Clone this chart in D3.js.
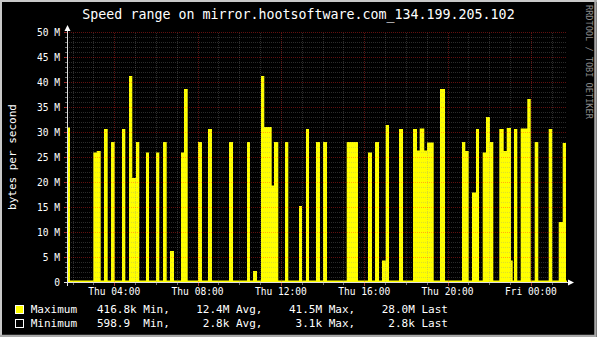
<!DOCTYPE html>
<html lang="en">
<head>
<meta charset="UTF-8">
<title>Speed range</title>
<style>
  body { margin: 0; background: #000; }
  svg { display: block; }
  text { font-family: "DejaVu Sans Mono", monospace; fill: #fff; }
</style>
</head>
<body>
<svg id="chart" width="597" height="337"></svg>
<script src="https://d3js.org/d3.v7.min.js"></script>
<script>
const chartTitle = "Speed range on mirror.hootsoftware.com_134.199.205.102";
const yTitle = "bytes per second";
const watermark = "RRDTOOL / TOBI OETIKER";

// graph covers one day, starting Thursday 01:44
const graphStart = new Date(2014, 0, 16, 1, 44);
const spanHours = 24;

// Maximum series: resting level and bursts, [from h, to h, MB/s] (h = hours after graphStart)
const restLevel = 0.42;
const bursts = [
  [0.000, 0.144, 31.0],
  [1.262, 1.426, 26.0], [1.426, 1.618, 26.3],
  [1.776, 1.954, 30.7],
  [2.112, 2.290, 28.1],
  [2.640, 2.798, 30.7],
  [2.976, 3.134, 41.3], [3.134, 3.312, 20.9], [3.312, 3.470, 28.1],
  [3.792, 3.936, 26.0],
  [4.272, 4.430, 26.0],
  [4.608, 4.786, 28.1],
  [4.944, 5.136, 6.3],
  [5.472, 5.616, 26.0], [5.616, 5.794, 38.7],
  [6.288, 6.480, 28.1],
  [6.768, 6.960, 30.7],
  [7.776, 7.968, 28.1],
  [8.640, 8.784, 28.1],
  [8.928, 9.120, 2.3],
  [9.312, 9.470, 41.3], [9.470, 9.826, 31.1], [9.826, 9.936, 19.4], [9.936, 10.142, 28.1],
  [10.464, 10.622, 28.1],
  [11.136, 11.280, 15.3],
  [11.472, 11.616, 30.7],
  [11.952, 12.144, 28.1],
  [12.288, 12.480, 28.1],
  [13.426, 13.968, 28.1],
  [14.448, 14.640, 26.0],
  [14.784, 14.976, 28.1],
  [15.120, 15.298, 4.4], [15.298, 15.456, 31.5],
  [15.936, 16.128, 30.7],
  [16.608, 16.800, 30.7], [16.800, 16.930, 26.4], [16.930, 17.150, 30.8], [17.150, 17.280, 26.4], [17.280, 17.602, 28.0],
  [17.904, 18.144, 38.7],
  [18.960, 19.118, 28.1], [19.118, 19.282, 26.3],
  [19.440, 19.632, 18.0], [19.632, 19.776, 30.7],
  [19.954, 20.112, 26.0], [20.112, 20.304, 33.1], [20.304, 20.462, 28.1],
  [20.750, 20.962, 30.7], [20.962, 21.106, 26.3], [21.106, 21.312, 30.9], [21.312, 21.394, 4.4],
  [21.456, 21.614, 30.7],
  [21.778, 22.094, 30.8], [22.094, 22.258, 36.7],
  [22.450, 22.622, 28.1],
  [23.122, 23.294, 30.7],
  [23.602, 23.794, 12.1], [23.794, 23.952, 27.9]
];

const yTicks = d3.range(0, 51, 5);          // labelled, in M
const legendNames = ["Maximum", "Minimum"];
const legendColors = ["#ffff00", "#000000"];
const legendStats = [
  "416.8k Min,    12.4M Avg,    41.5M Max,    28.0M Last",
  "598.9  Min,     2.8k Avg,     3.1k Max,     2.8k Last"
];

const W = 597, H = 337;
const plotL = 67, plotR = 567, plotT = 32.5, plotB = 282.5;
const svg = d3.select("#chart");

svg.append("rect").attr("width", W).attr("height", H).attr("fill", "#000");

const hour = h => new Date(graphStart.getTime() + h * 3600e3);
const x = d3.scaleTime().domain([graphStart, hour(spanHours)]).range([plotL, plotR]);
const y = d3.scaleLinear().domain([0, 50]).range([plotB, plotT]);

// step data
const pts = [[0, restLevel]];
bursts.forEach(b => { pts.push([b[0], b[2]]); pts.push([b[1], restLevel]); });
pts.push([spanHours, restLevel]);

const area = d3.area()
  .curve(d3.curveStepAfter)
  .x(d => x(hour(d[0])))
  .y0(y(0))
  .y1(d => y(d[1]));

svg.append("path").datum(pts).attr("d", area).attr("fill", "#ffff00");

// grid on top
const minorCol = "#8f8f8f", minorOp = 0.3, majorCol = "#ff2a2a", majorOp = 0.38;
const g = svg.append("g").attr("shape-rendering", "crispEdges").attr("stroke-dasharray", "1,1");
const hoursTicks = x.ticks(d3.timeHour.every(1));
hoursTicks.forEach(t => {
  const px = Math.round(x(t)) + 0.5;
  if (px <= plotL + 1 || px > plotR) return;
  const major = t.getHours() % 4 === 0;
  g.append("line").attr("x1", px).attr("x2", px).attr("y1", plotT).attr("y2", plotB)
    .attr("stroke", major ? majorCol : minorCol).attr("stroke-opacity", major ? majorOp : minorOp);
});
d3.range(1, 51).forEach(v => {
  const py = Math.round(y(v) - 0.5) + 0.5;
  const major = v % 5 === 0;
  g.append("line").attr("x1", plotL).attr("x2", plotR).attr("y1", py).attr("y2", py)
    .attr("stroke", major ? majorCol : minorCol).attr("stroke-opacity", major ? majorOp : minorOp);
});

// ticks
const tk = svg.append("g").attr("shape-rendering", "crispEdges");
hoursTicks.forEach(t => {
  const px = Math.round(x(t)) + 0.5;
  if (px <= plotL + 1 || px > plotR) return;
  const major = t.getHours() % 4 === 0;
  tk.append("line").attr("x1", px).attr("x2", px).attr("y1", plotB).attr("y2", plotB + (major ? 3 : 2))
    .attr("stroke", major ? "#a03030" : "#707070");
});
d3.range(0, 51).forEach(v => {
  const py = Math.round(y(v) - 0.5) + 0.5;
  const major = v % 5 === 0;
  tk.append("line").attr("x1", plotL - (major ? 3 : 2)).attr("x2", plotL).attr("y1", py).attr("y2", py)
    .attr("stroke", major ? "#a03030" : "#707070");
});

// axes
svg.append("line").attr("x1", plotL - 3).attr("x2", plotR + 2).attr("y1", plotB).attr("y2", plotB)
  .attr("stroke", "#e0e0e0").attr("shape-rendering", "crispEdges");
svg.append("path").attr("d", `M${plotR + 1},${plotB - 3}L${plotR + 7},${plotB}L${plotR + 1},${plotB + 3}Z`)
  .attr("fill", "#fff");
svg.append("line").attr("x1", plotL + 0.5).attr("x2", plotL + 0.5).attr("y1", plotB + 3).attr("y2", plotT - 2)
  .attr("stroke", "#e0e0e0").attr("shape-rendering", "crispEdges");
svg.append("path").attr("d", `M${plotL - 2.5},${plotT - 1.5}L${plotL + 0.5},${plotT - 7.5}L${plotL + 3.5},${plotT - 1.5}Z`)
  .attr("fill", "#fff");

// tick labels
const fmt = d3.timeFormat("%a %H:%M");
hoursTicks.filter(t => t.getHours() % 4 === 0 && x(t) > plotL).forEach(t => {
  svg.append("text").attr("x", x(t)).attr("y", 295).attr("text-anchor", "middle")
    .attr("font-size", "9.6px").text(fmt(t));
});
yTicks.forEach(v => {
  svg.append("text").attr("x", 60).attr("y", y(v) + 3.5).attr("text-anchor", "end")
    .attr("font-size", "9.6px").text(v === 0 ? "0" : v + " M");
});

// titles
svg.append("text").attr("x", 298.5).attr("y", 18.5).attr("text-anchor", "middle")
  .attr("font-size", "13.3px").text(chartTitle);
svg.append("text").attr("transform", "translate(15.5,157) rotate(-90)").attr("text-anchor", "middle")
  .attr("font-size", "11px").text(yTitle);
svg.append("text").attr("transform", "translate(585.5,5) rotate(90)")
  .attr("font-size", "8.6px").style("fill", "#8a8a8a").text(watermark);

// legend
legendNames.forEach((name, i) => {
  const ly = 313 + i * 14;
  svg.append("rect").attr("x", 15.5).attr("y", ly - 7.5).attr("width", 8).attr("height", 8)
    .attr("fill", legendColors[i]).attr("stroke", "#fff").attr("shape-rendering", "crispEdges");
  svg.append("text").attr("x", 30.7).attr("y", ly).attr("font-size", "11px")
    .style("white-space", "pre").text(name + "   " + legendStats[i]);
});

// frame
svg.append("path").attr("d", `M1,${H}V1H${W}`).attr("fill", "none").attr("stroke", "#c8c8c8").attr("stroke-width", 2);
svg.append("path").attr("d", `M0,${H - 1}H${W - 1.5}V0`).attr("fill", "none").attr("stroke", "#a8a8a8").attr("stroke-width", 2.5);
</script>
</body>
</html>
